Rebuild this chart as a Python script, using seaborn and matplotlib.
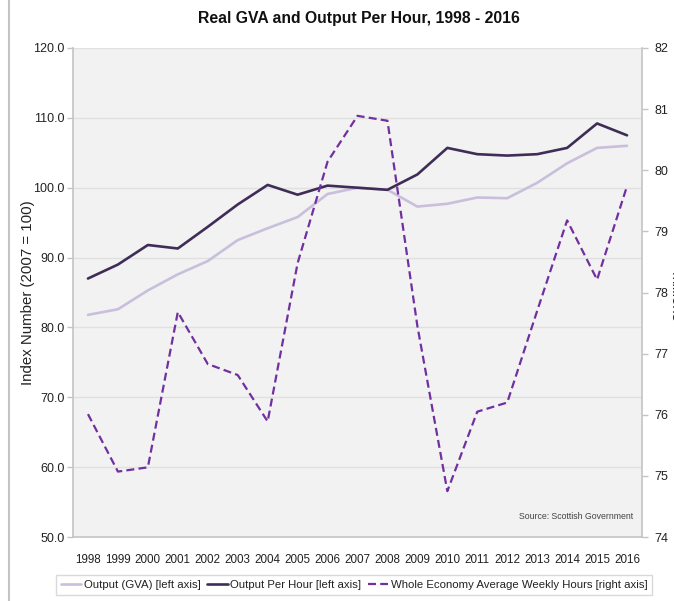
import matplotlib
matplotlib.use("Agg")
import matplotlib.pyplot as plt
import pandas as pd
import seaborn as sns

years = list(range(1998, 2017))
output_gva = [81.8, 82.6, 85.3, 87.6, 89.5, 92.5, 94.2, 95.8, 99.1, 100.0,
              99.7, 97.3, 97.7, 98.6, 98.5, 100.7, 103.5, 105.7, 106.0]
output_per_hour = [87.0, 89.0, 91.8, 91.3, 94.4, 97.6, 100.4, 99.0, 100.3, 100.0,
                   99.7, 101.9, 105.7, 104.8, 104.6, 104.8, 105.7, 109.2, 107.5]
weekly_hours = [76.01, 75.07, 75.14, 77.68, 76.83, 76.65, 75.89, 78.48, 80.14, 80.89,
                80.81, 77.45, 74.75, 76.05, 76.20, 77.70, 79.18, 78.21, 79.74]

left_ticks = [50, 60, 70, 80, 90, 100, 110, 120]
right_ticks = [74, 75, 76, 77, 78, 79, 80, 81, 82]

df = pd.DataFrame({
    "year": years,
    "gva": output_gva,
    "oph": output_per_hour,
    "hours": weekly_hours,
})

sns.set_theme(style="white")
plt.rcParams["font.family"] = ["Liberation Sans", "DejaVu Sans"]

fig = plt.figure(figsize=(6.74, 6.01), dpi=100)
ax = fig.add_axes([73 / 674, 1 - 537 / 601, 569 / 674, 489 / 601])
ax2 = ax.twinx()

c_light = "#c9bfdd"
c_dark = "#3f2d57"
c_dash = "#7030a0"
c_axis = "#c4c4c4"

sns.lineplot(data=df, x="year", y="gva", ax=ax, color=c_light, lw=1.9,
             label="Output (GVA) [left axis]", legend=False)
sns.lineplot(data=df, x="year", y="oph", ax=ax, color=c_dark, lw=1.9,
             label="Output Per Hour [left axis]", legend=False)
sns.lineplot(data=df, x="year", y="hours", ax=ax2, color=c_dash, lw=1.6,
             linestyle=(0, (3.6, 1.9)),
             label="Whole Economy Average Weekly Hours [right axis]", legend=False)

ax.set_facecolor("#f2f2f2")
ax.set_xlim(1997.5, 2016.5)
ax.set_ylim(50, 120)
ax2.set_ylim(74, 82)
ax.set_xticks(years)
ax.set_xticklabels([str(y) for y in years], fontsize=8.4, color="#222222")
ax.set_yticks(left_ticks)
ax.set_yticklabels([f"{v:.1f}" for v in left_ticks], fontsize=9, color="#222222")
ax2.set_yticks(right_ticks)
ax2.set_yticklabels([str(v) for v in right_ticks], fontsize=9, color="#222222")

ax.grid(axis="y", color="#e0e0e0", lw=1)
ax.set_axisbelow(True)
ax.set_xlabel("")
ax.set_ylabel("Index Number (2007 = 100)", fontsize=10.8, color="#222222", labelpad=-1)
ax2.set_ylabel("")

for a in (ax, ax2):
    a.spines["top"].set_visible(False)
    for side in ("left", "right", "bottom"):
        a.spines[side].set_color(c_axis)
        a.spines[side].set_linewidth(1.2)
ax.spines["right"].set_visible(False)
ax2.spines["left"].set_visible(False)
ax2.spines["bottom"].set_visible(False)

ax.tick_params(axis="y", left=True, length=4, width=1, color=c_axis, pad=2)
ax.tick_params(axis="x", bottom=False, pad=6)
ax2.tick_params(axis="y", right=True, length=4, width=1, color=c_axis, pad=5)

fig.text(0.532, 0.97, "Real GVA and Output Per Hour, 1998 - 2016",
         ha="center", va="center", fontsize=11.3, fontweight="bold", color="#111111")

ax.text(0.984, 0.033, "Source: Scottish Government", transform=ax.transAxes,
        ha="right", va="bottom", fontsize=6.3, color="#444444")

fig.text(668 / 674, 0.505, "Millions", rotation=270, ha="left", va="center",
         fontsize=10.8, color="#222222")

# thin frame line at far left of image
fig.add_artist(plt.Line2D([9 / 674, 9 / 674], [0.0, 1.0], color=c_axis, lw=1.5))

h1, l1 = ax.get_legend_handles_labels()
h2, l2 = ax2.get_legend_handles_labels()
leg = fig.legend(h1 + h2, l1 + l2, loc="center", bbox_to_anchor=(354 / 674, 1 - 585 / 601),
                 ncol=3, fontsize=8.2, frameon=True, fancybox=False,
                 handlelength=1.8, handletextpad=0.2, columnspacing=0.6,
                 borderpad=0.45, borderaxespad=0)
leg.get_frame().set_edgecolor("#d0d0d0")
leg.get_frame().set_linewidth(1)
for t in leg.get_texts():
    t.set_color("#222222")

fig.savefig("out.png", dpi=100)
